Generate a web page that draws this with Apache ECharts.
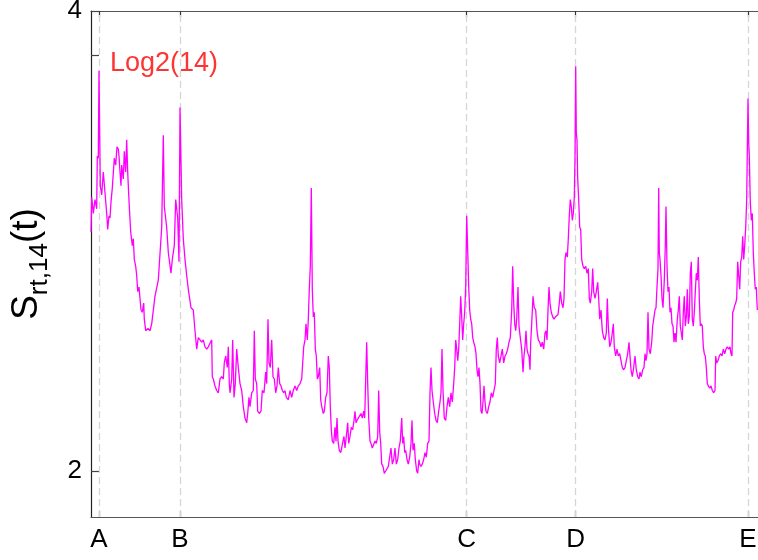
<!DOCTYPE html>
<html>
<head>
<meta charset="utf-8">
<script src="https://cdn.jsdelivr.net/npm/echarts@6/dist/echarts.min.js"></script>
<style>
  html, body { margin: 0; padding: 0; background: #fff; }
  #chart { width: 758px; height: 560px; }
</style>
</head>
<body>
<div id="chart"></div>
<script>
// time index of each sample
const tIdx = [
  0, 0.7, 2.3, 4, 5.7, 6.3, 7.3, 8, 8.7, 9.3, 10.7, 12.3, 14, 15.7, 16.7, 18, 19, 20, 21.3, 23.3,
  24.7, 26, 27.3, 28, 29, 30, 30.7, 32.3, 33.3, 34.7, 35.7, 36.7, 37.3, 38.3, 39.7, 41.3, 42.3, 43.3, 44.7, 45.7,
  46.7, 48, 49, 50, 51.3, 52.7, 53.3, 54.7, 57, 59, 60.7, 64, 67.3, 70.7, 72.3, 73.3, 75.7, 77.3, 80, 81.3,
  83.3, 84.7, 86.7, 88, 89, 90.7, 92.3, 94, 95.7, 97.3, 100, 102.3, 104, 105.7, 107.3, 109, 110.7, 112.3, 114, 115.7,
  117.3, 119, 120.7, 121.3, 122.3, 124, 125.7, 127.3, 129, 130.7, 132.3, 133.3, 134.7, 136.3, 137.3, 138.3, 139, 140.7, 141.7, 143,
  144.3, 145.7, 147.3, 149, 150.7, 152.3, 154, 155.7, 156.7, 158, 159, 160.7, 162.3, 163.3, 164.3, 165.7, 166.7, 168.3, 170, 171.3,
  173, 174.7, 175.7, 177, 178, 179.3, 180.7, 182, 183.3, 184.7, 186, 187.3, 188.7, 190, 191.3, 192.7, 194, 195.3, 197.3, 199,
  200.7, 202.3, 204, 205.7, 207.3, 209, 210.7, 211.7, 212.7, 214, 215, 216.3, 217.3, 218.3, 219.3, 220.3, 221.3, 222.3, 223.3, 224.3,
  225.3, 226.3, 227.3, 228.7, 229.7, 230.7, 232.3, 233.3, 234.7, 236, 237.3, 238.3, 239.3, 240.3, 241.3, 242.7, 244, 245, 246, 247,
  248.3, 249.7, 250.7, 252, 253, 254, 255.3, 256.7, 257.7, 259, 260.3, 261.7, 263, 264, 265, 266, 267.3, 268.7, 270, 271.3,
  272.7, 273.7, 274.7, 275.7, 276.7, 277.7, 279, 280, 281.3, 282.7, 284, 285.3, 286.7, 287.7, 288.7, 289.7, 290.7, 292, 293.3, 294.7,
  296, 297.3, 298.7, 300, 301.3, 302.7, 304, 305.3, 306.7, 308, 309.3, 310.7, 311.7, 312.7, 313.7, 314.7, 316, 317.3, 318.7, 320,
  321, 322, 323.3, 324.3, 325.7, 326.7, 328, 328.7, 330, 331.3, 332.7, 334, 335.3, 336.7, 338, 339, 340, 341, 342.3, 343.7,
  345, 346.3, 347.7, 349, 350, 351, 352, 353.3, 354.7, 356, 357.3, 358.7, 360, 361.3, 362.7, 363.7, 364.7, 365.7, 366.7, 367.7,
  368.7, 369.7, 370.7, 371.7, 372.7, 373.7, 374.7, 375.7, 376.7, 377.7, 378.7, 379.7, 380.7, 381.7, 382.7, 384, 385, 386, 387, 388,
  389, 390, 391, 392, 393, 394, 395, 396.3, 397.7, 399, 400.3, 401.7, 403, 404.3, 405.3, 406.3, 407.3, 408.7, 410, 411.3,
  412.7, 414, 415.3, 416.7, 418, 419.3, 420.7, 421.7, 422.7, 423.7, 424.7, 425.7, 427, 428, 429.3, 430.7, 432, 433, 434, 435,
  436, 437, 438, 439, 439.7, 440.7, 442, 443.3, 444.7, 446, 447.3, 448.7, 450, 451.3, 452.7, 454, 455, 456, 457, 458,
  459, 460.3, 461.7, 463, 464.3, 465.7, 467, 468.3, 469.3, 470.7, 472, 473, 474, 475, 476.3, 477.3, 478.3, 479.3, 480.3, 481.3,
  482.3, 483.3, 484, 484.7, 485.3, 486, 486.7, 487.7, 488.7, 489.7, 490.7, 492, 493.3, 494.7, 496, 497.3, 498.3, 499.3, 500.7, 501.7,
  502.7, 504, 505.3, 506.7, 507.7, 508.7, 510, 511.3, 512.7, 514, 515.3, 516.3, 517.3, 518.7, 520, 521.3, 522.3, 523.3, 524.7, 526,
  527.3, 528.7, 530, 531.3, 532.7, 534, 535.3, 536.7, 538, 539, 540, 541.3, 542.7, 544, 545.3, 546.7, 548, 549, 550.3, 551.7,
  553, 554, 555, 556, 557, 558, 559.3, 560.7, 561.7, 562.7, 564, 565, 566, 567, 567.7, 568.3, 569, 570, 571, 572,
  573.3, 574.3, 575, 576, 577, 578, 579, 580, 581, 582, 583, 584, 585, 586.3, 587.3, 588.3, 589.3, 590.3, 591.3, 592.3,
  593.3, 594.3, 595.3, 596.3, 597.3, 598.3, 599.3, 600.3, 601.3, 602.3, 603.3, 604.3, 605.3, 606.3, 607.3, 608.3, 609.3, 610.3, 611.3, 612.3,
  613.3, 614.3, 615.3, 616.3, 617.3, 618.7, 620, 621.3, 622.7, 624, 624.7, 625.7, 627, 628.3, 629.7, 631, 632.3, 633.7, 635, 636.3,
  637.7, 639, 640, 641, 641.7, 642.7, 643.7, 644.7, 645.7, 646.7, 647.7, 648.7, 649.7, 650.7, 651.7, 652.7, 653.7, 654.7, 655.7, 656.3,
  657, 657.7, 658.3, 659.3, 660.3, 661.3, 662.3, 663.3, 664.3, 665.3, 666.3
];

// S_rt,14(t) at each sample
const sVal = [
  3.04, 3.19, 3.12, 3.18, 3.14, 3.37, 3.36, 3.74, 3.47, 3.24, 3.20, 3.30, 3.21, 3.12, 3.05, 3.11, 3.10, 3.17, 3.23, 3.36,
  3.33, 3.41, 3.40, 3.37, 3.30, 3.24, 3.33, 3.27, 3.39, 3.30, 3.44, 3.30, 3.24, 3.15, 3.04, 2.98, 3.01, 2.92, 2.89, 2.85,
  2.78, 2.80, 2.75, 2.70, 2.69, 2.73, 2.66, 2.61, 2.62, 2.61, 2.64, 2.76, 2.83, 3.06, 3.46, 3.15, 3.06, 2.95, 2.86, 2.92,
  2.98, 3.18, 3.10, 2.91, 3.58, 3.18, 3.01, 2.92, 2.85, 2.79, 2.71, 2.70, 2.61, 2.53, 2.58, 2.57, 2.56, 2.57, 2.54, 2.53,
  2.54, 2.54, 2.57, 2.41, 2.40, 2.37, 2.35, 2.34, 2.40, 2.41, 2.40, 2.47, 2.50, 2.45, 2.54, 2.38, 2.34, 2.40, 2.57, 2.32,
  2.38, 2.53, 2.45, 2.38, 2.35, 2.28, 2.23, 2.21, 2.25, 2.32, 2.28, 2.34, 2.35, 2.61, 2.40, 2.38, 2.26, 2.25, 2.26, 2.35,
  2.34, 2.43, 2.38, 2.66, 2.47, 2.45, 2.57, 2.41, 2.40, 2.34, 2.37, 2.45, 2.38, 2.37, 2.35, 2.34, 2.35, 2.32, 2.31, 2.35,
  2.32, 2.35, 2.37, 2.35, 2.37, 2.38, 2.40, 2.40, 2.54, 2.57, 2.64, 2.57, 2.66, 2.79, 2.89, 3.23, 2.79, 2.67, 2.69, 2.53,
  2.50, 2.40, 2.41, 2.45, 2.31, 2.28, 2.25, 2.26, 2.32, 2.34, 2.50, 2.45, 2.28, 2.18, 2.13, 2.12, 2.19, 2.13, 2.23, 2.13,
  2.09, 2.08, 2.10, 2.13, 2.15, 2.10, 2.15, 2.21, 2.12, 2.15, 2.19, 2.18, 2.22, 2.26, 2.21, 2.22, 2.23, 2.23, 2.25, 2.23,
  2.26, 2.23, 2.40, 2.56, 2.38, 2.23, 2.13, 2.12, 2.10, 2.10, 2.13, 2.12, 2.15, 2.35, 2.17, 2.12, 2.03, 2.02, 1.99, 2.00,
  2.01, 2.02, 2.02, 2.10, 2.03, 2.05, 2.10, 2.03, 2.05, 2.10, 2.13, 2.23, 2.12, 2.15, 2.08, 2.09, 2.05, 2.03, 2.06, 2.12,
  2.22, 2.09, 2.12, 2.05, 2.00, 1.99, 2.05, 2.03, 2.02, 2.03, 2.05, 2.08, 2.06, 2.12, 2.13, 2.34, 2.45, 2.35, 2.30, 2.25,
  2.22, 2.21, 2.26, 2.30, 2.34, 2.53, 2.35, 2.23, 2.22, 2.28, 2.32, 2.28, 2.34, 2.30, 2.38, 2.45, 2.57, 2.53, 2.48, 2.53,
  2.64, 2.76, 2.67, 2.57, 2.64, 2.69, 2.80, 3.11, 2.96, 2.80, 2.70, 2.66, 2.64, 2.58, 2.56, 2.54, 2.51, 2.44, 2.41, 2.45,
  2.38, 2.26, 2.25, 2.30, 2.37, 2.30, 2.26, 2.25, 2.28, 2.30, 2.34, 2.32, 2.35, 2.38, 2.53, 2.58, 2.50, 2.47, 2.50, 2.53,
  2.47, 2.50, 2.51, 2.53, 2.56, 2.58, 2.70, 2.89, 2.73, 2.64, 2.61, 2.66, 2.80, 2.63, 2.58, 2.53, 2.43, 2.50, 2.54, 2.61,
  2.53, 2.51, 2.50, 2.44, 2.56, 2.64, 2.76, 2.71, 2.70, 2.61, 2.57, 2.56, 2.54, 2.56, 2.53, 2.60, 2.61, 2.57, 2.70, 2.80,
  2.73, 2.69, 2.67, 2.66, 2.67, 2.67, 2.68, 2.73, 2.78, 2.73, 2.71, 2.75, 2.92, 2.95, 2.93, 3.01, 3.11, 3.18, 3.15, 3.09,
  3.12, 3.19, 3.36, 3.76, 3.47, 3.44, 3.27, 3.18, 3.06, 3.05, 2.92, 2.89, 2.88, 2.89, 2.86, 2.88, 2.75, 2.73, 2.78, 2.88,
  2.78, 2.75, 2.78, 2.82, 2.75, 2.66, 2.70, 2.61, 2.58, 2.57, 2.60, 2.75, 2.63, 2.54, 2.56, 2.60, 2.64, 2.54, 2.50, 2.53,
  2.50, 2.51, 2.48, 2.45, 2.44, 2.45, 2.48, 2.51, 2.56, 2.50, 2.44, 2.41, 2.45, 2.50, 2.44, 2.41, 2.40, 2.43, 2.41, 2.44,
  2.45, 2.51, 2.48, 2.51, 2.69, 2.53, 2.51, 2.56, 2.63, 2.66, 2.70, 2.71, 2.80, 2.88, 3.23, 2.95, 2.92, 2.85, 2.75, 2.71,
  2.83, 2.98, 3.15, 2.89, 2.78, 2.80, 2.69, 2.71, 2.64, 2.63, 2.56, 2.60, 2.56, 2.66, 2.70, 2.76, 2.63, 2.60, 2.57, 2.69,
  2.76, 2.63, 2.67, 2.79, 2.64, 2.67, 2.86, 2.91, 2.66, 2.63, 2.69, 2.78, 2.86, 2.83, 2.93, 2.75, 2.63, 2.64, 2.63, 2.54,
  2.51, 2.50, 2.45, 2.38, 2.37, 2.36, 2.37, 2.35, 2.34, 2.35, 2.50, 2.47, 2.48, 2.50, 2.51, 2.50, 2.53, 2.51, 2.53, 2.54,
  2.53, 2.54, 2.51, 2.50, 2.69, 2.70, 2.72, 2.73, 2.75, 2.91, 2.85, 2.79, 2.91, 2.93, 3.02, 2.92, 2.98, 3.06, 3.18, 3.39,
  3.62, 3.43, 3.37, 3.17, 3.09, 3.12, 2.95, 2.86, 2.79, 2.80, 2.70
];

// event markers along the time axis
const markerPos = [8, 89, 375.7, 484.7, 657];
const markerNames = ['A', 'B', 'C', 'D', 'E'];

// value axis
const yLabelTicks = [2, 4];
const refLevel = Math.log2(14);
const refText = 'Log2(14)';

const tMin = 0, tMax = 667;
const yMin = 1.8, yMax = 4;

const seriesData = tIdx.map((t, i) => [t, sVal[i]]);

const chart = echarts.init(document.getElementById('chart'), null, { renderer: 'canvas' });

const fontFamily = '"Liberation Sans", Arial, Helvetica, sans-serif';

chart.setOption({
  animation: false,
  backgroundColor: '#ffffff',
  grid: { left: 91, right: 0, top: 11, bottom: 43, containLabel: false, outerBoundsMode: 'none' },
  xAxis: [
    {
      type: 'value', min: tMin, max: tMax, position: 'bottom',
      axisLine: { show: true, onZero: false, lineStyle: { color: '#555', width: 1.2 } },
      axisTick: { show: true, inside: true, length: 6, customValues: markerPos, lineStyle: { color: '#333', width: 1.2 } },
      axisLabel: {
        show: true, customValues: markerPos, margin: 10,
        color: '#000', fontSize: 26, fontFamily,
        formatter: (v) => {
          const i = markerPos.findIndex(p => Math.abs(p - v) < 1e-6);
          return i >= 0 ? markerNames[i] : '';
        }
      },
      splitLine: { show: false }
    },
    {
      type: 'value', min: tMin, max: tMax, position: 'top',
      axisLine: { show: true, onZero: false, lineStyle: { color: '#555', width: 1.2 } },
      axisTick: { show: true, inside: true, length: 6, customValues: markerPos, lineStyle: { color: '#333', width: 1.2 } },
      axisLabel: { show: false },
      splitLine: { show: false }
    }
  ],
  yAxis: {
    type: 'value', min: yMin, max: yMax,
    axisLine: { show: true, onZero: false, lineStyle: { color: '#222', width: 1.2 } },
    axisTick: { show: true, inside: true, length: 8, customValues: [yLabelTicks[0], refLevel, yLabelTicks[1]], lineStyle: { color: '#444', width: 1.2 } },
    axisLabel: { show: true, customValues: yLabelTicks, margin: 9, color: '#000', fontSize: 26, fontFamily },
    splitLine: { show: false },
    name: '{m|S}{s|rt,14}{m|(t)}',
    nameLocation: 'middle',
    nameRotate: 90,
    nameGap: 38,
    nameTextStyle: {
      fontFamily,
      rich: {
        m: { fontSize: 37, fontFamily, color: '#000', lineHeight: 52, verticalAlign: 'middle' },
        s: { fontSize: 26, fontFamily, color: '#000', lineHeight: 52, verticalAlign: 'bottom' }
      }
    }
  },
  series: [
    {
      type: 'line',
      data: seriesData,
      showSymbol: false,
      symbol: 'none',
      sampling: null,
      lineStyle: { color: '#ff00ff', width: 1.3 },
      z: 3,
      markLine: {
        silent: true,
        symbol: ['none', 'none'],
        label: { show: false },
        lineStyle: { color: '#d6d6d6', type: [7, 4], width: 1.3 },
        data: markerPos.map(p => ({ xAxis: p })),
        z: 1
      }
    },
    {
      type: 'scatter',
      data: [[markerPos[0] + 11, refLevel]],
      symbolSize: 0,
      silent: true,
      label: {
        show: true, position: 'right', distance: 0,
        formatter: refText, color: '#ff0000', fontSize: 27, fontFamily,
        offset: [0, 8]
      }
    }
  ]
});
</script>
</body>
</html>
